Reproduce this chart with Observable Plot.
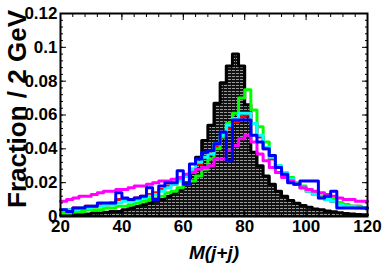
<!DOCTYPE html>
<html><head><meta charset="utf-8">
<script src="https://cdn.jsdelivr.net/npm/d3@7"></script>
<script src="https://cdn.jsdelivr.net/npm/@observablehq/plot@0.6"></script>
<style>body{margin:0;background:#fff} svg{display:block}</style>
</head><body><div id="chart"></div>
<script>
// Bin lower edges (GeV), 2 GeV bins from 20 to 120
const binStart = [20,22,24,26,28,30,32,34,36,38,40,42,44,46,48,50,52,54,56,58,60,62,64,66,68,70,72,74,76,78,80,82,84,86,88,90,92,94,96,98,100,102,104,106,108,110,112,114,116,118];
const binEnd = 120;

const blackHist = [0.001,0.001,0.001,0.001,0.0015,0.002,0.002,0.0025,0.003,0.003,
  0.004,0.005,0.006,0.007,0.008,0.009,0.010,0.012,0.014,0.016,
  0.020,0.026,0.035,0.045,0.054,0.067,0.079,0.089,0.096,0.089,
  0.066,0.038,0.030,0.024,0.019,0.015,0.012,0.0095,0.0078,0.0065,
  0.0055,0.0045,0.004,0.0033,0.0028,0.0022,0.0018,0.0015,0.0012,0.001];

const redHist = [0.004,0.004,0.005,0.005,0.006,0.006,0.007,0.007,0.008,0.010,
  0.010,0.010,0.011,0.012,0.013,0.014,0.016,0.018,0.019,0.022,
  0.024,0.028,0.031,0.035,0.038,0.042,0.047,0.052,0.056,0.059,
  0.060,0.055,0.047,0.040,0.034,0.029,0.025,0.021,0.019,0.017,
  0.015,0.013,0.012,0.010,0.009,0.008,0.007,0.006,0.006,0.005];

const greenHist = [0.002,0.002,0.003,0.003,0.004,0.004,0.004,0.005,0.005,0.006,
  0.006,0.007,0.008,0.009,0.010,0.011,0.012,0.014,0.015,0.017,
  0.019,0.021,0.024,0.028,0.034,0.040,0.047,0.055,0.061,0.070,
  0.075,0.063,0.053,0.044,0.036,0.030,0.026,0.023,0.020,0.018,
  0.016,0.014,0.012,0.011,0.010,0.008,0.007,0.006,0.006,0.005];

const cyanHist = [0.004,0.004,0.004,0.005,0.005,0.006,0.006,0.007,0.007,0.008,
  0.009,0.009,0.010,0.011,0.012,0.013,0.015,0.017,0.019,0.021,
  0.024,0.028,0.032,0.035,0.037,0.043,0.048,0.054,0.058,0.061,
  0.061,0.055,0.048,0.041,0.035,0.030,0.026,0.022,0.019,0.017,
  0.015,0.013,0.011,0.010,0.009,0.007,0.006,0.006,0.005,0.005];

const magentaHist = [0.009,0.010,0.011,0.012,0.012,0.013,0.014,0.015,0.015,0.016,
  0.016,0.017,0.018,0.018,0.019,0.020,0.021,0.021,0.022,0.023,
  0.025,0.026,0.028,0.029,0.030,0.034,0.034,0.039,0.042,0.046,
  0.048,0.044,0.037,0.033,0.029,0.026,0.023,0.021,0.019,0.017,
  0.016,0.015,0.014,0.013,0.012,0.011,0.010,0.010,0.009,0.009];

const blueHist = [0.004,0.003,0.005,0.005,0.006,0.006,0.008,0.008,0.008,0.014,
  0.011,0.010,0.011,0.012,0.017,0.010,0.018,0.020,0.020,0.027,
  0.019,0.031,0.034,0.038,0.039,0.043,0.050,0.033,0.057,0.057,
  0.057,0.048,0.044,0.040,0.036,0.029,0.025,0.020,0.019,0.021,
  0.021,0.021,0.011,0.012,0.015,0.005,0.005,0.005,0.005,0.005];

const xTicks = [20,40,60,80,100,120];
const xTickLabels = ["20","40","60","80","100","120"];
const yTicks = [0,0.02,0.04,0.06,0.08,0.1,0.12];
const yTickLabels = ["0","0.02","0.04","0.06","0.08","0.1","0.12"];
const xMinor = d3.range(20, 120.001, 4);
const yMinor = d3.range(0, 0.1201, 0.004);
const xTitle = "M(j+j)";
const yTitle = "Fraction / 2 GeV";

function steps(values) {
  const pts = binStart.map((x, i) => ({x, y: values[i]}));
  pts.push({x: binEnd, y: values[values.length - 1]});
  return pts;
}

const series = [
  {values: redHist, color: "#ff0000"},
  {values: greenHist, color: "#00ff00"},
  {values: cyanHist, color: "#00ffff"},
  {values: magentaHist, color: "#ff00ff"},
  {values: blueHist, color: "#0000ff"}
];

const labelFont = '"Liberation Sans Narrow","Arial Narrow","Liberation Sans",Arial,sans-serif';
const noLabel = {label: null, labelArrow: "none"};

const chart = Plot.plot({
  width: 382,
  height: 273,
  marginLeft: 60,
  marginRight: 15,
  marginTop: 13,
  marginBottom: 57,
  x: {domain: [20, 120], label: null},
  y: {domain: [0, 0.12], label: null},
  style: {fontFamily: labelFont, fontWeight: "bold", color: "black", background: "white"},
  marks: [
    Plot.areaY(steps(blackHist), {x: "x", y: "y", curve: "step-after", fill: "#010101"}),
    Plot.line(steps(blackHist), {x: "x", y: "y", curve: "step-after", stroke: "black", strokeWidth: 3}),
    ...series.map(s => Plot.line(steps(s.values), {x: "x", y: "y", curve: "step-after", stroke: s.color, strokeWidth: 3})),
    Plot.frame({stroke: "black", strokeWidth: 2}),
    // inward ticks (ROOT style)
    Plot.axisX({anchor: "bottom", ticks: xMinor, tickSize: -3, tickFormat: () => "", ...noLabel}),
    Plot.axisX({anchor: "bottom", ticks: xTicks, tickSize: -6, tickFormat: () => "", ...noLabel}),
    Plot.axisX({anchor: "top", ticks: xMinor, tickSize: -3, tickFormat: () => "", ...noLabel}),
    Plot.axisX({anchor: "top", ticks: xTicks, tickSize: -6, tickFormat: () => "", ...noLabel}),
    Plot.axisY({anchor: "left", ticks: yMinor, tickSize: -3, tickFormat: () => "", ...noLabel}),
    Plot.axisY({anchor: "left", ticks: yTicks, tickSize: -6, tickFormat: () => "", ...noLabel}),
    Plot.axisY({anchor: "right", ticks: yMinor, tickSize: -3, tickFormat: () => "", ...noLabel}),
    Plot.axisY({anchor: "right", ticks: yTicks, tickSize: -6, tickFormat: () => "", ...noLabel}),
    // tick labels
    Plot.axisX({anchor: "bottom", ticks: xTicks, tickSize: 0, tickPadding: 3, fontSize: 17, fontWeight: "bold",
      tickFormat: d => xTickLabels[xTicks.indexOf(d)], ...noLabel}),
    Plot.axisY({anchor: "left", ticks: yTicks, tickSize: 0, tickPadding: 3, fontSize: 17, fontWeight: "bold",
      tickFormat: d => yTickLabels[yTicks.findIndex(t => Math.abs(t - d) < 1e-9)], ...noLabel}),
    // axis titles
    Plot.axisX({anchor: "bottom", ticks: [], label: xTitle, labelArrow: "none", labelAnchor: "center", labelOffset: 42,
      fontSize: 19, fontStyle: "italic", fontWeight: "bold", fontFamily: '"Liberation Sans",Arial,sans-serif'}),
    Plot.axisY({anchor: "left", ticks: [], label: yTitle, labelArrow: "none", labelAnchor: "center", labelOffset: 53,
      fontSize: 26, fontWeight: "bold", fontFamily: '"Liberation Sans",Arial,sans-serif'})
  ]
});

document.getElementById("chart").appendChild(chart);

// hatched fill for the black histogram
const svg = d3.select(chart);
const defs = svg.insert("defs", ":first-child");
const pat = defs.append("pattern").attr("id", "hatch").attr("patternUnits", "userSpaceOnUse")
  .attr("width", 4).attr("height", 3);
pat.append("rect").attr("width", 4).attr("height", 3).attr("fill", "#121212");
pat.append("rect").attr("y", 1).attr("width", 3).attr("height", 1).attr("fill", "#9a9a9a");
svg.selectAll('g[aria-label="area"]').attr("fill", "url(#hatch)");
svg.selectAll('g[aria-label="area"] path').attr("fill", "url(#hatch)");
// nudge the y title upward to centre it like the reference (keep Plot's own transform)
svg.selectAll('g[aria-label="y-axis label"]').attr("transform", function() {
  return "translate(0,-6) " + (this.getAttribute("transform") || "");
});
</script>
</body></html>
